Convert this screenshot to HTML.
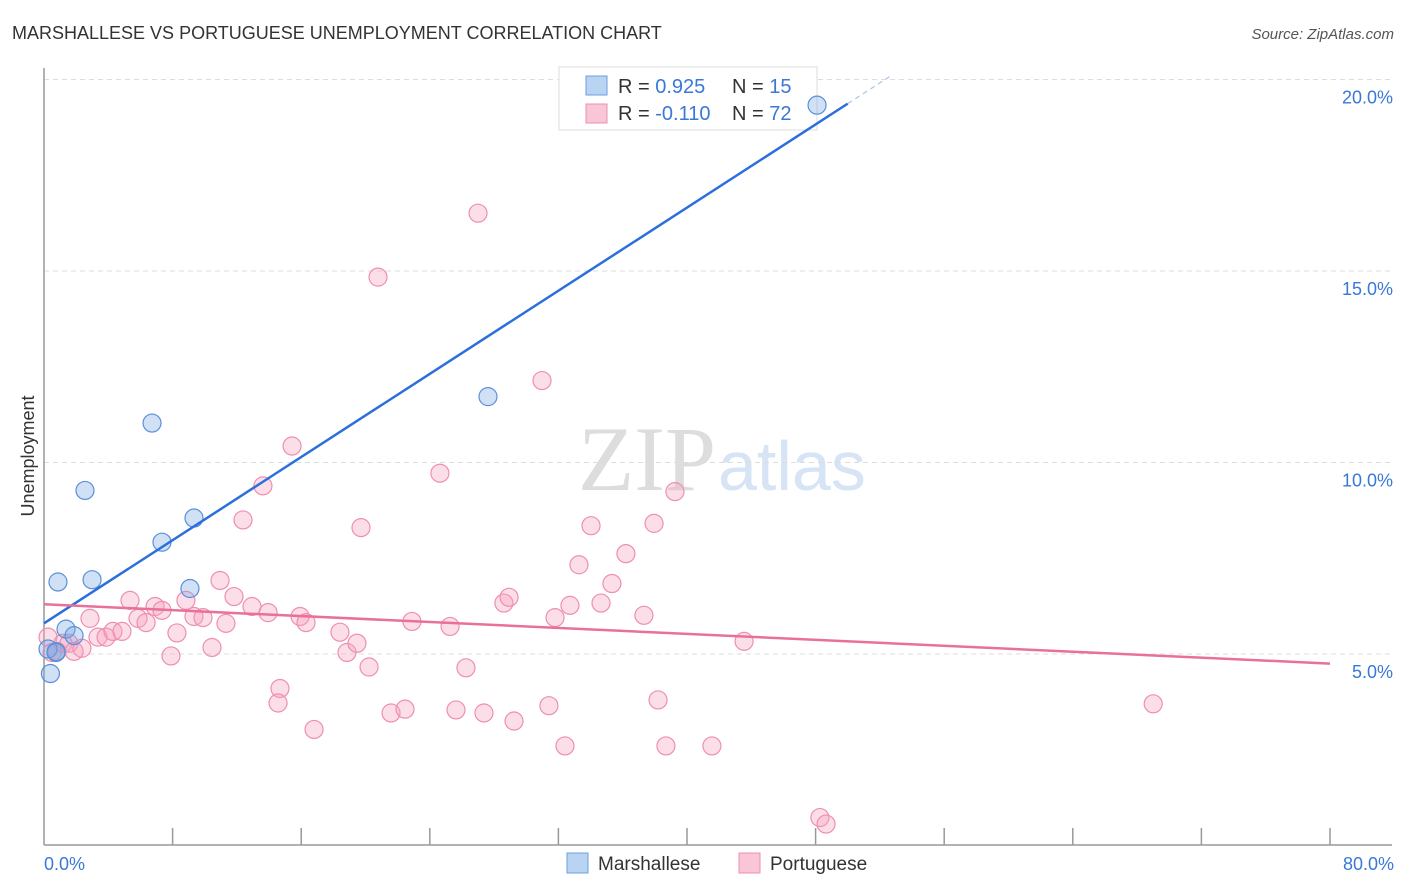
<!DOCTYPE html>
<html><head><meta charset="utf-8"><style>
body{margin:0;background:#fff;font-family:"Liberation Sans",sans-serif;}
svg{display:block}
</style></head><body>
<svg id="chart" width="1406" height="892">
<text x="12" y="39" font-size="18" fill="#333">MARSHALLESE VS PORTUGUESE UNEMPLOYMENT CORRELATION CHART</text>
<text x="1394" y="39" font-size="15" fill="#555" font-style="italic" text-anchor="end">Source: ZipAtlas.com</text>
<text x="716" y="490" font-size="92" fill="#ddd" text-anchor="end" font-family="Liberation Serif,serif">ZIP</text>
<text x="718" y="490" font-size="70" fill="#d6e4f5">atlas</text>
<g id="grid"></g>
<line x1="44" y1="68" x2="44" y2="845" stroke="#999" stroke-width="1.5"/>
<line x1="44" y1="845" x2="1392" y2="845" stroke="#999" stroke-width="1.5"/>
<g id="xticks"></g>
<text x="34" y="456" font-size="18" fill="#333" transform="rotate(-90 34 456)" text-anchor="middle">Unemployment</text>
<text x="44" y="870" font-size="18" fill="#3a78d8">0.0%</text>
<text x="1394" y="870" font-size="18" fill="#3a78d8" text-anchor="end">80.0%</text>
<g>
<rect x="559" y="67" width="258" height="63" fill="#fff" stroke="#ddd"/>
<rect x="586" y="76" width="21" height="19" fill="#b9d3f3" stroke="#6a9fe0"/>
<rect x="586" y="104" width="21" height="19" fill="#f9c6d6" stroke="#ee8fb0"/>
<text x="618" y="93" font-size="20" fill="#333">R = <tspan fill="#3a78d8">0.925</tspan></text>
<text x="732" y="93" font-size="20" fill="#333">N = <tspan fill="#3a78d8">15</tspan></text>
<text x="618" y="120" font-size="20" fill="#333">R = <tspan fill="#3a78d8">-0.110</tspan></text>
<text x="732" y="120" font-size="20" fill="#333">N = <tspan fill="#3a78d8">72</tspan></text>
</g>
<g id="pts"></g>
<g id="lines"></g>
<rect x="567" y="853" width="21" height="20" fill="#b9d3f3" stroke="#6a9fe0"/>
<text x="598" y="870" font-size="19" fill="#333">Marshallese</text>
<rect x="739" y="853" width="21" height="20" fill="#f9c6d6" stroke="#ee8fb0"/>
<text x="770" y="870" font-size="19" fill="#333">Portuguese</text>
</svg>
<script>
const yTicks=[5,10,15,20];
const blueX=[0.4,0.75,0.87,1.37,1.87,2.55,2.99,6.72,7.34,9.08,9.33,27.62,48.09,0.25,0.75];
const blueY=[4.49,5.06,6.88,5.65,5.48,9.27,6.94,11.03,7.92,6.71,8.55,11.72,19.33,5.13,5.04];
const pinkX=[0.25,0.5,0.81,1.18,1.55,1.87,2.36,2.86,3.36,3.86,4.29,4.85,5.35,5.85,6.35,6.91,7.34,7.9,8.27,8.83,9.33,9.89,10.45,10.95,11.32,11.82,12.38,12.94,13.62,13.94,14.68,14.56,15.43,15.93,16.3,16.8,18.41,18.85,19.47,19.72,20.22,20.78,21.59,22.46,22.89,24.63,25.26,25.63,26.25,27,27.37,28.61,28.93,29.24,30.98,31.41,31.79,32.41,32.72,33.28,34.03,34.65,35.33,36.2,37.32,37.95,38.2,38.69,39.25,41.55,43.55,48.27,48.65,69];
const pinkY=[5.44,5.04,5.07,5.28,5.28,5.07,5.15,5.93,5.44,5.44,5.59,5.59,6.4,5.93,5.82,6.24,6.14,4.95,5.55,6.4,5.98,5.95,5.17,6.92,5.8,6.5,8.5,6.24,9.39,6.08,4.1,3.72,10.43,5.98,5.82,3.03,5.57,5.04,5.28,8.3,4.66,14.84,3.46,3.56,5.85,9.72,5.72,3.54,4.64,16.51,3.46,6.33,6.48,3.25,12.14,3.65,5.95,2.6,6.27,7.33,8.35,6.33,6.84,7.62,6.01,8.41,3.8,2.6,9.24,2.6,5.33,0.73,0.56,3.7];
const blueFit=[5.8,19.37];
const pinkFit=[6.3,4.75];
const NS='http://www.w3.org/2000/svg';
const X=v=>44+v*16.075, Y=v=>845.5-v*38.3;
function mk(t,a,p){const e=document.createElementNS(NS,t);for(const k in a)e.setAttribute(k,a[k]);p.appendChild(e);return e;}
const grid=document.getElementById('grid');
yTicks.forEach(t=>{
 const l=mk('line',{x1:44,x2:1392,y1:Y(t),y2:Y(t),stroke:'#ddd','stroke-dasharray':'5,4'},grid);
 
 
 const tx=mk('text',{x:1393,y:Y(t)+24,'font-size':18,fill:'#3a78d8','text-anchor':'end'},grid);
 tx.textContent=t.toFixed(1)+'%';
 
 
});
const xt=document.getElementById('xticks');
for(let i=1;i<=10;i++){const l=mk('line',{x1:X(i*8),x2:X(i*8),y1:828,y2:845,stroke:'#999','stroke-width':1.5},xt);
 
 }
const pts=document.getElementById('pts');
pinkX.forEach((x,i)=>{const c=mk('circle',{cx:X(x),cy:Y(pinkY[i]),r:9,fill:'rgba(245,160,190,0.35)',stroke:'#ee8fb0','stroke-width':1.2},pts);
 
 });
blueX.forEach((x,i)=>{const c=mk('circle',{cx:X(x),cy:Y(blueY[i]),r:9,fill:'rgba(120,170,230,0.35)',stroke:'#5b8fd8','stroke-width':1.2},pts);
 
 });
const ln=document.getElementById('lines');
const byAt=x=>blueFit[0]+x*((blueFit[1]-blueFit[0])/50);
const bl=mk('line',{x1:X(0),y1:Y(byAt(0)),x2:X(50),y2:Y(byAt(50)),stroke:'#2a6fdb','stroke-width':2.5},ln);


const bd=mk('line',{x1:X(50),y1:Y(byAt(50)),x2:X(52.6),y2:Y(byAt(52.6)),stroke:'#aac4ea','stroke-width':1.2,'stroke-dasharray':'5,4'},ln);


const pl=mk('line',{x1:X(0),y1:Y(pinkFit[0]),x2:X(80),y2:Y(pinkFit[1]),stroke:'#e8709a','stroke-width':2.5},ln);


</script>
</body></html>
